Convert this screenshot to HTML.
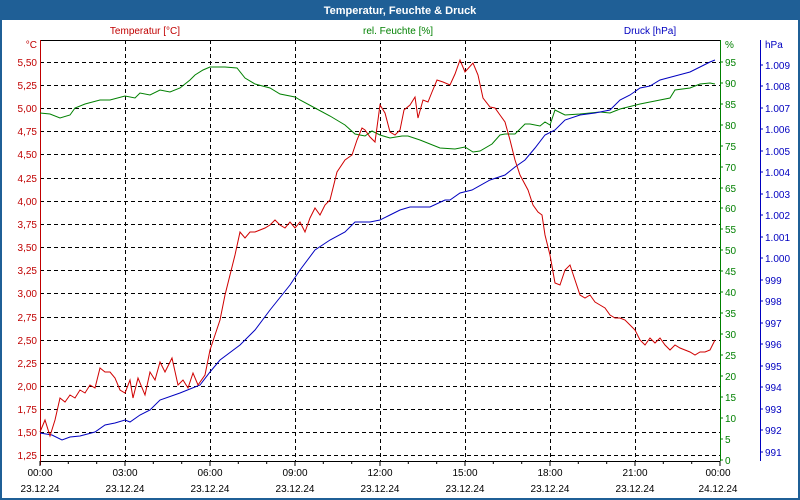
<!DOCTYPE html>
<html><head><meta charset="utf-8"><style>
body{margin:0;width:800px;height:500px;overflow:hidden;background:#fff}
svg{display:block;font-family:"Liberation Sans",sans-serif}
</style></head><body>
<svg width="800" height="500" viewBox="0 0 800 500">
<rect x="0" y="0" width="800" height="500" fill="#fff"/>
<rect x="1" y="1" width="798" height="498" fill="none" stroke="#1f5f96" stroke-width="2"/>
<rect x="0" y="0" width="800" height="20" fill="#1f5f96"/>
<text x="400" y="14" fill="#fff" font-size="11" font-weight="bold" text-anchor="middle">Temperatur, Feuchte &amp; Druck</text>
<g font-size="10">
<text x="145" y="34" fill="#c00000" text-anchor="middle">Temperatur [°C]</text>
<text x="398" y="34" fill="#008000" text-anchor="middle">rel. Feuchte [%]</text>
<text x="650" y="34" fill="#0000c0" text-anchor="middle">Druck [hPa]</text>
</g>
<g stroke="#000" stroke-dasharray="4,3" stroke-width="1">
<line x1="40" x2="720" y1="62.5" y2="62.5"/><line x1="40" x2="720" y1="85.5" y2="85.5"/><line x1="40" x2="720" y1="108.5" y2="108.5"/><line x1="40" x2="720" y1="131.5" y2="131.5"/><line x1="40" x2="720" y1="154.5" y2="154.5"/><line x1="40" x2="720" y1="178.5" y2="178.5"/><line x1="40" x2="720" y1="201.5" y2="201.5"/><line x1="40" x2="720" y1="224.5" y2="224.5"/><line x1="40" x2="720" y1="247.5" y2="247.5"/><line x1="40" x2="720" y1="270.5" y2="270.5"/><line x1="40" x2="720" y1="293.5" y2="293.5"/><line x1="40" x2="720" y1="317.5" y2="317.5"/><line x1="40" x2="720" y1="340.5" y2="340.5"/><line x1="40" x2="720" y1="363.5" y2="363.5"/><line x1="40" x2="720" y1="386.5" y2="386.5"/><line x1="40" x2="720" y1="409.5" y2="409.5"/><line x1="40" x2="720" y1="432.5" y2="432.5"/><line x1="40" x2="720" y1="455.5" y2="455.5"/>
<line x1="125.5" x2="125.5" y1="40" y2="461"/><line x1="210.5" x2="210.5" y1="40" y2="461"/><line x1="295.5" x2="295.5" y1="40" y2="461"/><line x1="380.5" x2="380.5" y1="40" y2="461"/><line x1="465.5" x2="465.5" y1="40" y2="461"/><line x1="550.5" x2="550.5" y1="40" y2="461"/><line x1="635.5" x2="635.5" y1="40" y2="461"/>
</g>
<line x1="40" x2="720" y1="40.5" y2="40.5" stroke="#000"/>
<line x1="40" x2="720" y1="461.5" y2="461.5" stroke="#000"/>
<line x1="40.5" x2="40.5" y1="40" y2="465" stroke="#c00000"/>
<line x1="720.5" x2="720.5" y1="40" y2="461" stroke="#008000"/>
<line x1="760.5" x2="760.5" y1="40" y2="461" stroke="#0000c0"/>
<g stroke="#000">
<path d="M40 461v5M68.3 461v3M96.7 461v3M125 461v5M153.3 461v3M181.7 461v3M210 461v5M238.3 461v3M266.7 461v3M295 461v5M323.3 461v3M351.7 461v3M380 461v5M408.3 461v3M436.7 461v3M465 461v5M493.3 461v3M521.7 461v3M550 461v5M578.3 461v3M606.7 461v3M635 461v5M663.3 461v3M691.7 461v3M720 461v5"/>
</g>
<g font-size="10" fill="#c00000" text-anchor="end">
<text x="37" y="48">°C</text>
<text x="37" y="66">5,50</text><text x="37" y="89">5,25</text><text x="37" y="112">5,00</text><text x="37" y="135">4,75</text><text x="37" y="158">4,50</text><text x="37" y="182">4,25</text><text x="37" y="205">4,00</text><text x="37" y="228">3,75</text><text x="37" y="251">3,50</text><text x="37" y="274">3,25</text><text x="37" y="297">3,00</text><text x="37" y="321">2,75</text><text x="37" y="344">2,50</text><text x="37" y="367">2,25</text><text x="37" y="390">2,00</text><text x="37" y="413">1,75</text><text x="37" y="436">1,50</text><text x="37" y="459">1,25</text>
</g>
<g font-size="10" fill="#008000">
<text x="725" y="48">%</text>
<text x="725" y="66">95</text><text x="725" y="87">90</text><text x="725" y="108">85</text><text x="725" y="129">80</text><text x="725" y="150">75</text><text x="725" y="171">70</text><text x="725" y="192">65</text><text x="725" y="212">60</text><text x="725" y="233">55</text><text x="725" y="254">50</text><text x="725" y="275">45</text><text x="725" y="296">40</text><text x="725" y="317">35</text><text x="725" y="338">30</text><text x="725" y="359">25</text><text x="725" y="380">20</text><text x="725" y="401">15</text><text x="725" y="422">10</text><text x="725" y="443">5</text><text x="725" y="464">0</text>
</g>
<g stroke="#008000"><path d="M720 62h3M720 83h3M720 104h3M720 125h3M720 146h3M720 167h3M720 188h3M720 208h3M720 229h3M720 250h3M720 271h3M720 292h3M720 313h3M720 334h3M720 355h3M720 376h3M720 397h3M720 418h3M720 439h3M720 460h3"/></g>
<g font-size="10" fill="#0000c0">
<text x="765" y="48">hPa</text>
<text x="765" y="69">1.009</text><text x="765" y="90">1.008</text><text x="765" y="112">1.007</text><text x="765" y="133">1.006</text><text x="765" y="155">1.005</text><text x="765" y="176">1.004</text><text x="765" y="198">1.003</text><text x="765" y="219">1.002</text><text x="765" y="241">1.001</text><text x="765" y="262">1.000</text><text x="765" y="284">999</text><text x="765" y="305">998</text><text x="765" y="327">997</text><text x="765" y="348">996</text><text x="765" y="370">995</text><text x="765" y="391">994</text><text x="765" y="413">993</text><text x="765" y="434">992</text><text x="765" y="456">991</text>
</g>
<g stroke="#0000c0"><path d="M760 65h3M760 86h3M760 108h3M760 129h3M760 151h3M760 172h3M760 194h3M760 215h3M760 237h3M760 258h3M760 280h3M760 301h3M760 323h3M760 344h3M760 366h3M760 387h3M760 409h3M760 430h3M760 452h3"/></g>
<g font-size="10" fill="#000" text-anchor="middle">
<text x="40" y="476">00:00</text><text x="125" y="476">03:00</text><text x="210" y="476">06:00</text><text x="295" y="476">09:00</text><text x="380" y="476">12:00</text><text x="465" y="476">15:00</text><text x="550" y="476">18:00</text><text x="635" y="476">21:00</text><text x="718" y="476">00:00</text>
<text x="40" y="492">23.12.24</text><text x="125" y="492">23.12.24</text><text x="210" y="492">23.12.24</text><text x="295" y="492">23.12.24</text><text x="380" y="492">23.12.24</text><text x="465" y="492">23.12.24</text><text x="550" y="492">23.12.24</text><text x="635" y="492">23.12.24</text><text x="718" y="492">24.12.24</text>
</g>
<polyline fill="none" stroke="#008000" stroke-width="1" points="40,113 50,114 60,118 70,115 75,108 85,104 100,100 110,100 125,96 135,98 140,93 150,95 160,90 170,92 180,88 190,80 195,75 203,70 210,67 225,67 237,68 245,78 255,84 270,88 280,94 295,97 300,100 315,108 330,116 345,125 355,134 365,136 372,131 380,135 390,138 402,136 408,136 420,140 440,148 455,149 465,147 473,152 480,151 492,144 500,135 505,134 515,134 525,124 530,124 540,126 545,122 550,125 555,110 565,115 580,114 600,112 610,113 620,109 640,104 660,100 670,98 675,90 690,88 700,84 710,83 715,84"/>
<polyline fill="none" stroke="#0000c0" stroke-width="1" points="40,433 52,435 62,440 70,437 80,436 95,432 105,425 115,423 125,420 130,422 140,415 150,410 160,400 180,393 200,385 210,372 220,360 240,345 255,330 270,310 290,285 300,270 315,250 330,240 345,232 355,222 370,222 380,220 390,215 400,210 410,207 430,207 445,200 450,200 460,193 472,190 490,180 505,175 515,167 525,160 535,148 545,135 555,130 565,120 580,115 595,113 610,110 620,100 630,95 640,88 650,86 660,80 675,76 690,72 700,67 710,62 715,60"/>
<polyline fill="none" stroke="#d00000" stroke-width="1" points="40,432 45,420 50,436 55,420 60,398 65,402 70,395 75,398 80,390 85,393 90,385 95,388 100,368 105,372 110,372 115,378 120,390 125,393 130,380 133,398 138,378 145,395 150,372 155,380 160,362 165,372 172,358 178,385 183,380 188,388 193,373 198,385 205,375 210,350 215,335 220,320 225,295 230,275 235,255 240,232 245,238 250,232 255,232 260,230 265,228 270,225 275,220 280,225 285,228 290,222 295,228 300,222 305,232 310,218 315,208 320,215 325,205 330,200 337,172 345,160 352,155 357,140 362,128 365,130 370,137 375,142 380,105 385,113 390,132 395,135 400,130 404,110 410,105 415,97 418,118 423,100 428,102 432,92 437,80 443,82 450,85 455,74 460,60 465,72 473,63 478,75 483,98 490,107 495,108 500,115 505,122 510,140 515,160 520,175 528,190 533,205 538,212 542,215 545,235 550,255 555,283 560,285 565,270 570,265 575,280 580,295 585,298 590,295 595,302 600,305 605,308 610,315 615,318 620,318 625,320 630,325 635,330 640,340 645,345 650,338 655,343 660,338 665,345 670,350 675,345 680,348 685,350 690,352 695,355 700,352 705,352 710,350 715,340"/>
</svg>
</body></html>
